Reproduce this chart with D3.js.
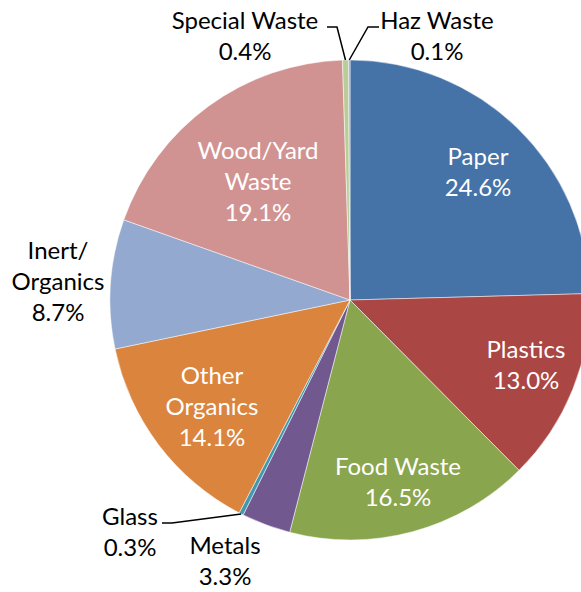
<!DOCTYPE html>
<html>
<head>
<meta charset="utf-8">
<script src="https://cdn.jsdelivr.net/npm/d3@7"></script>
<style>
  body { margin: 0; background: #fff; }
  svg text { font-family: Lato, "Open Sans", sans-serif; }
</style>
</head>
<body>
<svg id="chart"></svg>
<script>
// waste composition, clockwise from 12 o'clock
const categories = ["Paper", "Plastics", "Food Waste", "Metals", "Glass",
                    "Other Organics", "Inert/ Organics", "Wood/Yard Waste",
                    "Special Waste", "Haz Waste"];
const shares = [24.6, 13.0, 16.5, 3.3, 0.3, 14.1, 8.7, 19.1, 0.4, 0.1];
const colors = ["#4572A7", "#AA4643", "#89A54E", "#71588F", "#4198AF",
                "#DB843D", "#93A9CF", "#D19392", "#B9CD96", "#A99BBD"];

// label layout: lines of text, centre of the block, inside or not
const labelLayout = {
  "Paper":           {lines: ["Paper"], x: 478, y: 172, inside: true},
  "Plastics":        {lines: ["Plastics"], x: 526, y: 365, inside: true},
  "Food Waste":      {lines: ["Food Waste"], x: 398, y: 482, inside: true},
  "Metals":          {lines: ["Metals"], x: 225, y: 561, inside: false},
  "Glass":           {lines: ["Glass"], x: 130, y: 532, inside: false, leader: [[162, 523], [172, 523]]},
  "Other Organics":  {lines: ["Other", "Organics"], x: 212, y: 407, inside: true},
  "Inert/ Organics": {lines: ["Inert/", "Organics"], x: 58, y: 282, inside: false},
  "Wood/Yard Waste": {lines: ["Wood/Yard", "Waste"], x: 258, y: 182, inside: true},
  "Special Waste":   {lines: ["Special Waste"], x: 245, y: 36, inside: false, leader: [[327, 27], [337, 27]]},
  "Haz Waste":       {lines: ["Haz Waste"], x: 437, y: 36, inside: false, leader: [[379, 27], [368, 27]]}
};

const width = 581, height = 592;
const cx = 350, cy = 300, radius = 240;
const lineH = 31;

const svg = d3.select("#chart")
  .attr("width", width)
  .attr("height", height);

const data = categories.map((c, i) => ({name: c, value: shares[i], color: colors[i]}));

const pie = d3.pie().sort(null).value(d => d.value);
const arc = d3.arc().innerRadius(0).outerRadius(radius);
const arcs = pie(data);

const g = svg.append("g").attr("transform", `translate(${cx},${cy})`);

g.selectAll("path")
  .data(arcs)
  .join("path")
  .attr("d", arc)
  .attr("fill", d => d.data.color)
  .attr("stroke", "#fff")
  .attr("stroke-width", 0.5);

// leader lines for the thin slices
arcs.forEach(a => {
  const lay = labelLayout[a.data.name];
  if (!lay.leader) return;
  const mid = (a.startAngle + a.endAngle) / 2;
  const end = [cx + radius * Math.sin(mid), cy - radius * Math.cos(mid)];
  const pts = lay.leader.concat([end]);
  svg.append("path")
    .attr("d", d3.line()(pts))
    .attr("fill", "none")
    .attr("stroke", "#000")
    .attr("stroke-width", 1.5);
});

// labels
arcs.forEach(a => {
  const lay = labelLayout[a.data.name];
  const lines = lay.lines.concat([a.data.value.toFixed(1) + "%"]);
  const top = lay.y - (lines.length - 1) * lineH / 2;
  const t = svg.append("text")
    .attr("text-anchor", "middle")
    .attr("font-size", 24)
    .attr("fill", lay.inside ? "#fff" : "#000");
  lines.forEach((s, i) => {
    t.append("tspan")
      .attr("x", lay.x)
      .attr("y", top + i * lineH)
      .attr("dy", "0.35em")
      .text(s);
  });
});
</script>
</body>
</html>
